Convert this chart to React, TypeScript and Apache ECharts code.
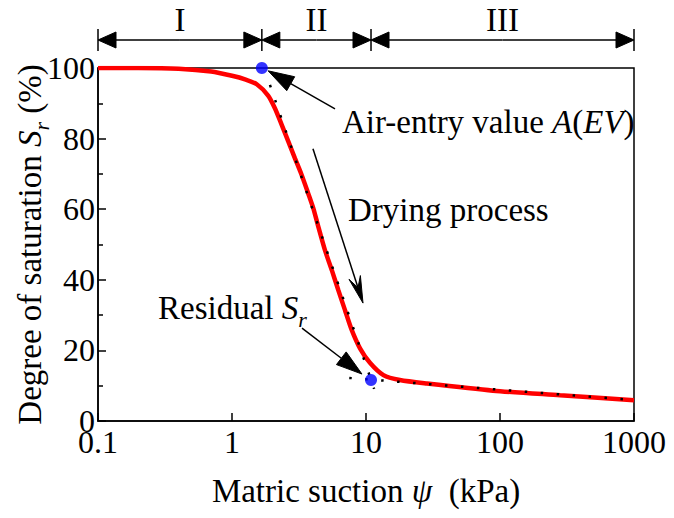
import React, { useEffect, useRef } from "react";
import * as echarts from "echarts";

// ---- data ----
const suction = [0.1, 0.2, 0.4, 0.7, 1.0, 1.25, 1.53, 1.86, 2.09, 2.35, 2.63, 2.95, 3.31, 3.71, 4.04, 4.41, 4.94, 5.55, 6.21, 6.97, 7.82, 9.02, 10.7, 13.5, 17.9, 28.5, 88.7, 281, 1000];
const saturation = [100, 100, 99.8, 99, 97.8, 96.8, 95.4, 92.2, 88.6, 83.9, 79.2, 74.4, 69.7, 64.4, 60.3, 55.0, 48.4, 42.8, 37.1, 31.4, 25.8, 20.6, 16.5, 13.0, 11.6, 10.6, 8.6, 7.3, 5.9];
const aevPoint = [1.67, 100];
const residualPoint = [10.9, 11.6];
const steepTangent = [[1.92, 95.2], [11.5, 9.1]];
const residualTangent = [[7.5, 12.2], [1000, 5.9]];
const xTickLabels = ["0.1", "1", "10", "100", "1000"];
const zoneLabels = ["I", "II", "III"];
const zoneBounds = [0.1, aevPoint[0], residualPoint[0], 1000];
const aevArrow = [[5.87, 88.4], [1.86, 99.2]];
const dryingArrow = [[4.02, 77.1], [9.5, 33.4]];
const residualArrow = [[3.33, 26.3], [9.33, 13.3]];

const FONT = "'Liberation Serif', 'Times New Roman', Times, serif";
const FS = 32;
const FT = 33;

function arrowEls(from: number[], to: number[], len: number, half: number, stealth: boolean) {
  const dx = to[0] - from[0];
  const dy = to[1] - from[1];
  const L = Math.hypot(dx, dy);
  const ux = dx / L, uy = dy / L;
  const nx = -uy, ny = ux;
  const bx = to[0] - ux * len, by = to[1] - uy * len;
  const notch = stealth ? [to[0] - ux * len * 0.6, to[1] - uy * len * 0.6] : [bx, by];
  const shaftEnd = stealth ? notch : [bx, by];
  return [
    {
      type: "line",
      shape: { x1: from[0], y1: from[1], x2: shaftEnd[0], y2: shaftEnd[1] },
      style: { stroke: "#000", lineWidth: 1.5 },
      silent: true,
    },
    {
      type: "polygon",
      shape: {
        points: stealth
          ? [to, [bx + nx * half, by + ny * half], notch, [bx - nx * half, by - ny * half]]
          : [to, [bx + nx * half, by + ny * half], [bx - nx * half, by - ny * half]],
      },
      style: { fill: "#000", stroke: "#000", lineWidth: 1 },
      silent: true,
    },
  ];
}

export default function App() {
  const ref = useRef<HTMLDivElement>(null);

  useEffect(() => {
    const chart = echarts.init(ref.current!, null, { renderer: "svg" });
    const richBase = {
      n: { fontSize: FT, fontFamily: FONT, color: "#000", lineHeight: 44 },
      i: { fontSize: FT, fontFamily: FONT, fontStyle: "italic", color: "#000", lineHeight: 44 },
      s: { fontSize: 22, fontFamily: FONT, fontStyle: "italic", color: "#000", lineHeight: 22, verticalAlign: "bottom" },
    };

    chart.setOption({
      animation: false,
      backgroundColor: "#fff",
      grid: {
        left: 98,
        right: 40,
        top: 68,
        bottom: 97,
        show: true,
        borderColor: "#000",
        borderWidth: 1.5,
        containLabel: false,
        outerBoundsMode: "none",
      },
      xAxis: {
        type: "log",
        logBase: 10,
        min: 0.1,
        max: 1000,
        splitNumber: 4,
        name: "{n|Matric suction }{i|ψ}{n|  (kPa)}",
        nameLocation: "middle",
        nameGap: 48,
        nameMoveOverlap: false,
        nameTextStyle: { rich: richBase },
        axisLine: { lineStyle: { color: "#000", width: 1.5 } },
        axisTick: { inside: true, length: 8, lineStyle: { color: "#000", width: 1.5 } },
        minorTick: { show: false },
        splitLine: { show: false },
        axisLabel: {
          color: "#000",
          fontSize: FS,
          fontFamily: FONT,
          margin: 5,
          showMinLabel: true,
          showMaxLabel: true,
          hideOverlap: false,
          formatter: (v: number) => {
            const idx = Math.round(Math.log10(v)) + 1;
            return xTickLabels[idx] ?? String(v);
          },
        },
      },
      yAxis: {
        type: "value",
        min: 0,
        max: 100,
        interval: 20,
        name: "{n|Degree of saturation }{i|S}{s|r}{n| (%)}",
        nameLocation: "middle",
        nameRotate: 90,
        nameGap: 46,
        nameMoveOverlap: false,
        nameTextStyle: { rich: richBase },
        axisLine: { lineStyle: { color: "#000", width: 1.5 } },
        axisTick: { inside: true, length: 8, lineStyle: { color: "#000", width: 1.5 } },
        minorTick: { show: true, splitNumber: 2, length: 5, lineStyle: { color: "#000", width: 1.5 } },
        splitLine: { show: false },
        axisLabel: { color: "#000", fontSize: FS, fontFamily: FONT, margin: 3 },
      },
      series: [
        {
          type: "line",
          data: suction.map((x, i) => [x, saturation[i]]),
          smooth: 0.25,
          symbol: "none",
          lineStyle: { color: "#ff0000", width: 4.5 },
          z: 2,
        },
        {
          type: "line",
          data: steepTangent,
          symbol: "none",
          lineStyle: { color: "#000", width: 2.5, type: [2.5, 13.5] },
          z: 3,
        },
        {
          type: "line",
          data: residualTangent,
          symbol: "none",
          lineStyle: { color: "#000", width: 2.5, type: [2.5, 13.5] },
          z: 3,
        },
        {
          type: "scatter",
          data: [aevPoint, residualPoint],
          symbolSize: 12,
          itemStyle: { color: "#0000ff" },
          z: 5,
        },
      ],
    });

    const px = (p: number[]) => chart.convertToPixel({ gridIndex: 0 }, p) as number[];
    const els: any[] = [];

    // zone arrows on top
    const topY = px([0.1, 100])[1] - 28;
    const bx = zoneBounds.map((b) => px([b, 100])[0]);
    bx.forEach((x) => {
      els.push({ type: "line", shape: { x1: x, y1: topY - 11, x2: x, y2: topY + 11 }, style: { stroke: "#000", lineWidth: 1.5 }, silent: true });
    });
    for (let k = 0; k < zoneLabels.length; k++) {
      const a = bx[k], b = bx[k + 1];
      const mid = (a + b) / 2;
      els.push(...arrowEls([mid, topY], [a, topY], 18, 8, false));
      els.push(...arrowEls([mid, topY], [b, topY], 18, 8, false));
      els.push({
        type: "text",
        x: mid,
        y: topY - 20,
        style: { text: zoneLabels[k], fontSize: FT, fontFamily: FONT, fill: "#000", align: "center", verticalAlign: "middle" },
        silent: true,
      });
    }

    els.push(...arrowEls(px(aevArrow[0]), px(aevArrow[1]), 26, 8, false));
    els.push(...arrowEls(px(dryingArrow[0]), px(dryingArrow[1]), 27, 6, true));
    els.push(...arrowEls(px(residualArrow[0]), px(residualArrow[1]), 26, 8, false));

    els.push({
      type: "text",
      x: 342,
      y: 122,
      style: {
        text: "{n|Air-entry value }{i|A}{n|(}{i|EV}{n|)}",
        rich: richBase,
        fontSize: FT,
        fontFamily: FONT,
        fill: "#000",
        align: "left",
        verticalAlign: "middle",
      },
      silent: true,
    });
    els.push({
      type: "text",
      x: 348,
      y: 210,
      style: { text: "Drying process", fontSize: FT, fontFamily: FONT, fill: "#000", align: "left", verticalAlign: "middle" },
      silent: true,
    });
    els.push({
      type: "text",
      x: 158,
      y: 308,
      style: {
        text: "{n|Residual }{i|S}{s|r}",
        rich: richBase,
        fontSize: FT,
        fontFamily: FONT,
        fill: "#000",
        align: "left",
        verticalAlign: "middle",
      },
      silent: true,
    });

    chart.setOption({ graphic: els });
    return () => chart.dispose();
  }, []);

  return <div ref={ref} style={{ position: "fixed", left: 0, top: 0, width: 674, height: 518 }} />;
}
